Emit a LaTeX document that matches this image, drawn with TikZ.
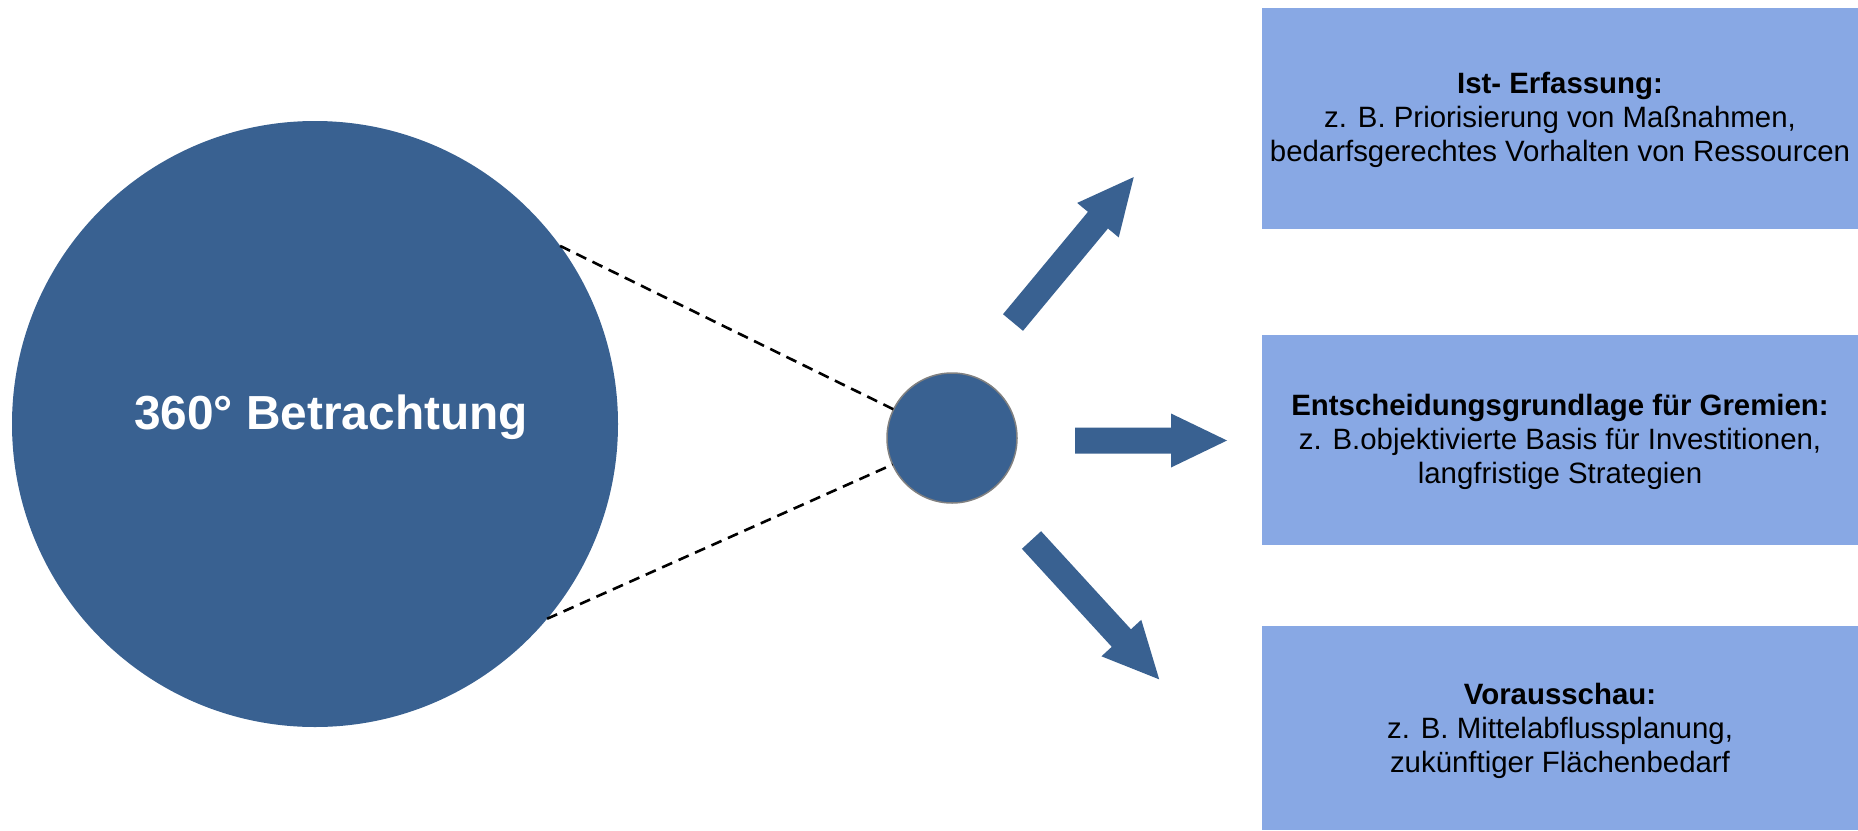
\documentclass[tikz,border=0pt]{standalone}
\usepackage{fontspec}
\setmainfont{Liberation Sans}
\definecolor{dblue}{HTML}{396191}
\definecolor{lblue}{HTML}{88A8E4}
\definecolor{rimgray}{HTML}{808080}
\newcommand\blockarrow[3]{%
  \fill[dblue, shift={(#1)}, rotate=#2]
    (0,-13) -- (#3-56,-13) -- (#3-56,-27) -- (#3,0) -- (#3-56,27) -- (#3-56,13) -- (0,13) -- cycle;}
\begin{document}
\begin{tikzpicture}[x=0.5pt, y=-0.5pt,
  every node/.style={outer sep=0pt, inner sep=0pt},
  bigcirc/.style={circle, fill=dblue, minimum size=303pt},
  smallcirc/.style={circle, fill=dblue, draw=rimgray, line width=0.75pt, minimum size=65pt},
  infobox/.style={rectangle, fill=lblue, minimum width=298pt},
  boxtext/.style={align=center, text=black, font=\fontsize{14.7}{17}\selectfont},
  conn/.style={black, line width=1.3pt, dash pattern=on 5.5pt off 3.5pt}]
\useasboundingbox (0,0) rectangle (1858,830);
\fill[white] (0,0) rectangle (1858,830);

\node[bigcirc] (big) at (315,424) {};
\node[text=white, font=\bfseries\fontsize{23.9}{28}\selectfont] (bigtext) at (331,417) {360° Betrachtung};
\node[smallcirc] (small) at (952,438) {};

\draw[conn] (big.36.5) -- (small);
\draw[conn] (big.-40.6) -- (small);

\node[infobox, minimum height=110.5pt] (ist) at (1560,118.5) {};
\node[infobox, minimum height=105pt] (ent) at (1560,440) {};
\node[infobox, minimum height=102pt] (vor) at (1560,728) {};

\node[boxtext] (isttext) at (1560,120) {\textbf{Ist- Erfassung:}\\z. B. Priorisierung von Maßnahmen,\\bedarfsgerechtes Vorhalten von Ressourcen};
\node[boxtext] (enttext) at (1560,442) {\textbf{Entscheidungsgrundlage für Gremien:}\\z. B.objektivierte Basis für Investitionen,\\langfristige Strategien};
\node[boxtext] (vortext) at (1560,731) {\textbf{Vorausschau:}\\z. B. Mittelabflussplanung,\\zukünftiger Flächenbedarf};

\blockarrow{1013,322.5}{50.3}{189}
\blockarrow{1075,440.5}{0}{152}
\blockarrow{1031.5,540}{-47.5}{189}
\end{tikzpicture}
\end{document}
